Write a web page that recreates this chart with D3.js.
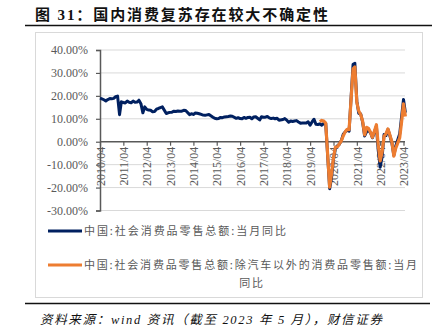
<!DOCTYPE html>
<html><head><meta charset="utf-8">
<script src="https://cdn.jsdelivr.net/npm/d3@7"></script>
<style>body{margin:0;background:#fff}svg{display:block}</style>
</head><body>
<svg id="c" width="440" height="334"></svg>
<script>
const titleText = "图 31：国内消费复苏存在较大不确定性";
const sourceText = "资料来源：wind 资讯（截至 2023 年 5 月），财信证券";
const seriesNames = ["中国:社会消费品零售总额:当月同比", "中国:社会消费品零售总额:除汽车以外的消费品零售额:当月同比"];
const yTicks = [-30, -20, -10, 0, 10, 20, 30, 40];
const xTickLabels = ["2010/04","2011/04","2012/04","2013/04","2014/04","2015/04","2016/04","2017/04","2018/04","2019/04","2020/04","2021/04","2022/04","2023/04"];

const totalMonths = [
 "2010-04","2010-05","2010-06","2010-07","2010-08","2010-09","2010-10","2010-11","2010-12",
 "2011-01","2011-02","2011-03","2011-04","2011-05","2011-06","2011-07","2011-08","2011-09","2011-10","2011-11","2011-12",
 "2012-01","2012-02","2012-03","2012-04","2012-05","2012-06","2012-07","2012-08","2012-09","2012-10","2012-11","2012-12",
 "2013-02","2013-03","2013-04","2013-05","2013-06","2013-07","2013-08","2013-09","2013-10","2013-11","2013-12",
 "2014-02","2014-03","2014-04","2014-05","2014-06","2014-07","2014-08","2014-09","2014-10","2014-11","2014-12",
 "2015-02","2015-03","2015-04","2015-05","2015-06","2015-07","2015-08","2015-09","2015-10","2015-11","2015-12",
 "2016-02","2016-03","2016-04","2016-05","2016-06","2016-07","2016-08","2016-09","2016-10","2016-11","2016-12",
 "2017-02","2017-03","2017-04","2017-05","2017-06","2017-07","2017-08","2017-09","2017-10","2017-11","2017-12",
 "2018-02","2018-03","2018-04","2018-05","2018-06","2018-07","2018-08","2018-09","2018-10","2018-11","2018-12",
 "2019-02","2019-03","2019-04","2019-05","2019-06","2019-07","2019-08","2019-09","2019-10","2019-11","2019-12",
 "2020-02","2020-03","2020-04","2020-05","2020-06","2020-07","2020-08","2020-09","2020-10","2020-11","2020-12",
 "2021-02","2021-03","2021-04","2021-05","2021-06","2021-07","2021-08","2021-09","2021-10","2021-11","2021-12",
 "2022-02","2022-03","2022-04","2022-05","2022-06","2022-07","2022-08","2022-09","2022-10","2022-11","2022-12",
 "2023-02","2023-03","2023-04","2023-05"];
const totalValues = [
 19.0,18.7,18.3,17.8,18.4,18.8,18.7,18.9,19.6,
 19.9,11.8,17.4,17.1,16.9,17.7,17.2,17.0,17.7,17.2,17.3,18.1,
 16.6,12.6,15.2,14.1,13.8,13.7,13.1,13.2,14.2,14.5,14.9,15.2,
 12.3,12.6,12.8,12.9,13.3,13.2,13.4,13.3,13.3,13.7,13.6,
 11.8,12.2,11.9,12.5,12.4,12.2,11.9,11.6,11.5,11.7,11.9,
 10.7,10.2,10.0,10.1,10.6,10.5,10.8,10.9,11.0,11.2,11.1,
 10.2,10.5,10.1,10.0,10.6,10.2,10.6,10.7,10.0,10.8,10.9,
 9.5,10.9,10.7,10.7,11.0,10.4,10.1,10.3,10.0,10.2,9.4,
 9.7,10.1,9.4,8.5,9.0,8.8,9.0,9.2,8.6,8.1,8.2,
 8.2,8.7,7.2,8.6,9.8,7.6,7.5,7.8,7.2,8.0,8.0,
 -20.5,-15.8,-7.5,-2.8,-1.8,-1.1,0.5,3.3,4.3,5.0,4.6,
 33.8,34.2,17.7,12.4,12.1,8.5,2.5,4.4,4.9,3.9,1.7,
 6.7,-3.5,-11.1,-6.7,3.1,2.7,5.4,2.5,-0.5,-5.9,-1.8,
 3.5,10.6,18.4,12.7];

const exAutoMonths = [
 "2019-09","2019-10","2019-11","2019-12",
 "2020-02","2020-03","2020-04","2020-05","2020-06","2020-07","2020-08","2020-09","2020-10","2020-11","2020-12",
 "2021-02","2021-03","2021-04","2021-05","2021-06","2021-07","2021-08","2021-09","2021-10","2021-11","2021-12",
 "2022-02","2022-03","2022-04","2022-05","2022-06","2022-07","2022-08","2022-09","2022-10","2022-11","2022-12",
 "2023-02","2023-03","2023-04","2023-05"];
const exAutoValues = [
 8.7,9.3,9.0,8.1,
 -19.8,-14.1,-6.9,-2.3,-2.2,-1.0,0.4,2.6,4.3,5.4,5.3,
 31.8,32.6,17.1,13.4,11.8,8.9,3.0,6.3,5.8,4.1,1.9,
 7.4,-1.2,-8.4,-4.6,2.4,3.5,5.6,2.8,0.0,-6.3,-2.8,
 1.8,8.4,16.5,11.0];

const svg = d3.select("#c");
const parse = d3.timeParse("%Y-%m");
const x = d3.scaleTime().domain([parse("2010-04"), parse("2023-04")]).range([100, 403.5]);
const y = d3.scaleLinear().domain([-30, 40]).range([210.5, 50]);
const grey = "#595959";

// title
svg.append("text").attr("x", 35).attr("y", 20)
  .attr("font-family", "'Liberation Serif','Noto Sans CJK SC'")
  .attr("font-weight", "bold").attr("font-size", 15)
  .attr("textLength", 293).attr("lengthAdjust", "spacing")
  .attr("fill", "#111").text(titleText);
svg.append("line").attr("x1", 25).attr("x2", 432).attr("y1", 25.5).attr("y2", 25.5)
  .attr("stroke", "#111").attr("stroke-width", 1.3);

// frame
svg.append("rect").attr("x", 35.5).attr("y", 32.5).attr("width", 387).attr("height", 265)
  .attr("fill", "none").attr("stroke", "#d9d9d9").attr("stroke-width", 1);

// gridlines
svg.append("g").selectAll("line").data(yTicks.filter(d => d !== 0)).join("line")
  .attr("x1", 100).attr("x2", 405).attr("y1", d => y(d)).attr("y2", d => y(d))
  .attr("stroke", "#d9d9d9").attr("stroke-width", 1);

// y axis
const yAxis = d3.axisLeft(y).tickValues(yTicks).tickSize(4).tickPadding(8)
  .tickFormat(d => d.toFixed(2) + "%");
const gy = svg.append("g").attr("transform", "translate(100,0)").call(yAxis);
gy.select(".domain").attr("stroke", grey).attr("stroke-width", 1.5);
gy.selectAll(".tick line").attr("stroke", grey).attr("stroke-width", 1.2);
gy.selectAll(".tick text").attr("font-family", "'Liberation Serif'").attr("font-size", 12).attr("fill", grey);

// x axis at zero
const xTickDates = xTickLabels.map(s => d3.timeParse("%Y/%m")(s));
const xAxis = d3.axisBottom(x).tickValues(xTickDates).tickSize(4).tickPadding(4)
  .tickFormat(d3.timeFormat("%Y/%m"));
const gx = svg.append("g").attr("transform", `translate(0,${y(0)})`).call(xAxis);
gx.select(".domain").attr("stroke", grey).attr("stroke-width", 1.5).attr("d", `M100,0H405`);
gx.selectAll(".tick line").attr("stroke", grey).attr("stroke-width", 1.2);
gx.selectAll(".tick text").attr("font-family", "'Liberation Serif'").attr("font-size", 12).attr("fill", grey)
  .attr("transform", "rotate(-90)").attr("text-anchor", "end")
  .attr("x", -5).attr("y", 0).attr("dy", "0.35em");

// lines
const line = d3.line().x(d => x(d[0])).y(d => y(d[1]));
const totalData = totalMonths.map((m, i) => [parse(m), totalValues[i]]);
const exData = exAutoMonths.map((m, i) => [parse(m), exAutoValues[i]]);
svg.append("path").datum(totalData).attr("d", line).attr("fill", "none")
  .attr("stroke", "#002060").attr("stroke-width", 3).attr("stroke-linejoin", "round");
svg.append("path").datum(exData).attr("d", line).attr("fill", "none")
  .attr("stroke", "#ED7D31").attr("stroke-width", 3.2).attr("stroke-linejoin", "round");

// legend
const legFont = "'Noto Sans CJK SC'";
svg.append("line").attr("x1", 48).attr("x2", 82).attr("y1", 231).attr("y2", 231)
  .attr("stroke", "#002060").attr("stroke-width", 3);
svg.append("text").attr("x", 84).attr("y", 231).attr("dy", "0.35em")
  .attr("font-family", legFont).attr("font-size", 11).attr("fill", grey)
  .attr("textLength", 202).attr("lengthAdjust", "spacing").text(seriesNames[0]);
svg.append("line").attr("x1", 48).attr("x2", 82).attr("y1", 265).attr("y2", 265)
  .attr("stroke", "#ED7D31").attr("stroke-width", 3);
const n2 = seriesNames[1];
svg.append("text").attr("x", 84).attr("y", 265).attr("dy", "0.35em")
  .attr("font-family", legFont).attr("font-size", 11).attr("fill", grey)
  .attr("textLength", 333).attr("lengthAdjust", "spacing").text(n2.slice(0, n2.length - 2));
svg.append("text").attr("x", 252).attr("y", 283).attr("dy", "0.35em").attr("text-anchor", "middle")
  .attr("font-family", legFont).attr("font-size", 11).attr("fill", grey)
  .attr("letter-spacing", 1.7).text(n2.slice(n2.length - 2));

// bottom rule & source
svg.append("line").attr("x1", 25).attr("x2", 430).attr("y1", 303.5).attr("y2", 303.5)
  .attr("stroke", "#111").attr("stroke-width", 1.3);
svg.append("text").attr("x", 40).attr("y", 320).attr("dy", "0.35em")
  .attr("font-family", "'Liberation Serif','Noto Sans CJK SC'").attr("font-style", "italic")
  .attr("font-size", 12.5).attr("fill", "#111")
  .attr("textLength", 342).attr("lengthAdjust", "spacing").text(sourceText);
</script>
</body></html>
